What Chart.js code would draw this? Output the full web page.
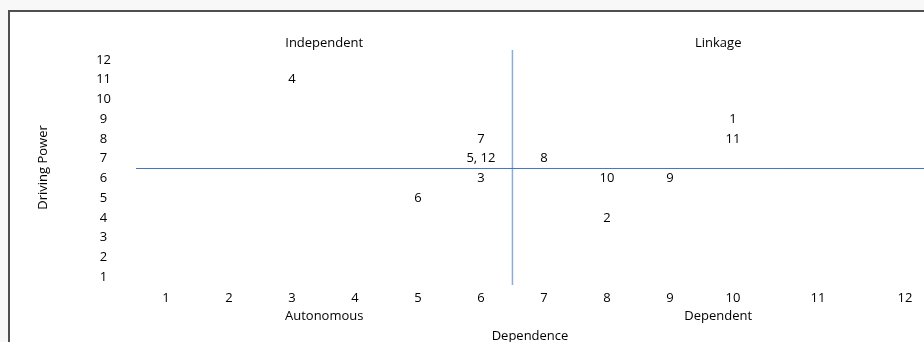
<!DOCTYPE html>
<html>
<head>
<meta charset="utf-8">
<script src="https://cdn.jsdelivr.net/npm/chart.js@4.4.1/dist/chart.umd.min.js"></script>
<style>
  body { margin: 0; background: #f8f8f8; overflow: hidden; }
  #frame { position: absolute; left: 8px; top: 10px; width: 1000px; height: 400px;
           border-left: 2px solid #505050; border-top: 2px solid #505050; background: #fff; }
  #chart { position: absolute; left: 0; top: 0; }
</style>
</head>
<body>
<div id="frame"></div>
<canvas id="chart" width="924" height="342"></canvas>
<script>
// MICMAC-style map: element number, dependence (x) and driving power (y)
const elements = ['1', '2', '3', '4', '5', '6', '7', '8', '9', '10', '11', '12'];
const dependence = [10, 8, 6, 3, 6, 5, 6, 7, 9, 8, 10, 6];
const drivingPower = [9, 4, 6, 11, 7, 5, 8, 7, 6, 6, 8, 7];
const quadrantNames = ['Independent', 'Linkage', 'Autonomous', 'Dependent'];
const dependenceCut = 6.5;
const drivingCut = 6.5;

// the source table has wider columns for 11 and 12, so the x scale is piecewise
const columnGaps = [1, 1, 1, 1, 1, 1, 1, 1, 1, 1.35, 1.38];

class ColumnScale extends Chart.LinearScale {
  toUnits(v) {
    if (v <= 1) return v - 1;
    let u = 0;
    for (let k = 1; k <= columnGaps.length; k++) {
      if (v <= k + 1) return u + (v - k) * columnGaps[k - 1];
      u += columnGaps[k - 1];
    }
    return u + (v - columnGaps.length - 1) * columnGaps[columnGaps.length - 1];
  }
  getPixelForValue(value) {
    const u0 = this.toUnits(this.min), u1 = this.toUnits(this.max);
    return this.getPixelForDecimal((this.toUnits(value) - u0) / (u1 - u0));
  }
}
ColumnScale.id = 'columns';
ColumnScale.defaults = Chart.LinearScale.defaults;
Chart.register(ColumnScale);

const FONT = { family: '"Open Sans", sans-serif', size: 13 };
const TEXT = '#000';
const xMin = 0.524, xMax = 12.22, yMin = 0.6, yMax = 12.5;

const labelPlugin = {
  id: 'pointText',
  afterDatasetsDraw(chart) {
    const ctx = chart.ctx;
    const meta = chart.getDatasetMeta(0);
    const groups = new Map();
    meta.data.forEach((pt, i) => {
      const key = dependence[i] + ',' + drivingPower[i];
      if (!groups.has(key)) groups.set(key, { x: pt.x, y: pt.y, names: [] });
      groups.get(key).names.push(elements[i]);
    });
    ctx.save();
    ctx.font = FONT.size + 'px ' + FONT.family;
    ctx.fillStyle = TEXT;
    ctx.textAlign = 'center';
    ctx.textBaseline = 'middle';
    groups.forEach(g => ctx.fillText(g.names.join(', '), g.x, g.y));

    const area = chart.chartArea;
    const xc = chart.scales.x.getPixelForValue(dependenceCut);
    const leftMid = (area.left + xc) / 2, rightMid = (xc + area.right) / 2;
    ctx.fillText(quadrantNames[0], leftMid, area.top - 7);
    ctx.fillText(quadrantNames[1], rightMid, area.top - 7);
    ctx.fillText(quadrantNames[2], leftMid, area.bottom + 31);
    ctx.fillText(quadrantNames[3], rightMid, area.bottom + 31);
    ctx.restore();
  }
};

new Chart(document.getElementById('chart'), {
  type: 'scatter',
  data: {
    datasets: [
      {
        data: dependence.map((d, i) => ({ x: d, y: drivingPower[i] })),
        pointRadius: 0
      },
      {
        type: 'line',
        data: [{ x: xMin, y: drivingCut }, { x: xMax, y: drivingCut }],
        borderColor: '#4472c4', borderWidth: 1, pointRadius: 0
      },
      {
        type: 'line',
        data: [{ x: dependenceCut, y: yMin }, { x: dependenceCut, y: yMax }],
        borderColor: '#8eaadb', borderWidth: 1.5, pointRadius: 0
      }
    ]
  },
  options: {
    responsive: false,
    animation: false,
    events: [],
    layout: { padding: { top: 50, right: 0, bottom: 0, left: 0 } },
    plugins: { legend: { display: false }, tooltip: { enabled: false } },
    scales: {
      x: {
        type: 'columns',
        min: xMin, max: xMax,
        grid: { display: false },
        border: { display: false },
        ticks: { stepSize: 1, includeBounds: false, autoSkip: false, padding: -3, color: TEXT, font: FONT, maxRotation: 0 },
        title: { display: true, text: 'Dependence', color: TEXT, font: FONT, padding: { top: 0, bottom: -2 } },
        afterFit: s => { s.height = 57; }
      },
      y: {
        min: yMin, max: yMax,
        grid: { display: false },
        border: { display: false },
        ticks: { stepSize: 1, includeBounds: false, autoSkip: false, padding: 17, crossAlign: 'center', color: TEXT, font: FONT },
        title: { display: true, text: 'Driving Power', color: TEXT, font: FONT, padding: { top: 35, bottom: 0 } },
        afterFit: s => { s.width = 136; }
      }
    }
  },
  plugins: [labelPlugin]
});
</script>
</body>
</html>
